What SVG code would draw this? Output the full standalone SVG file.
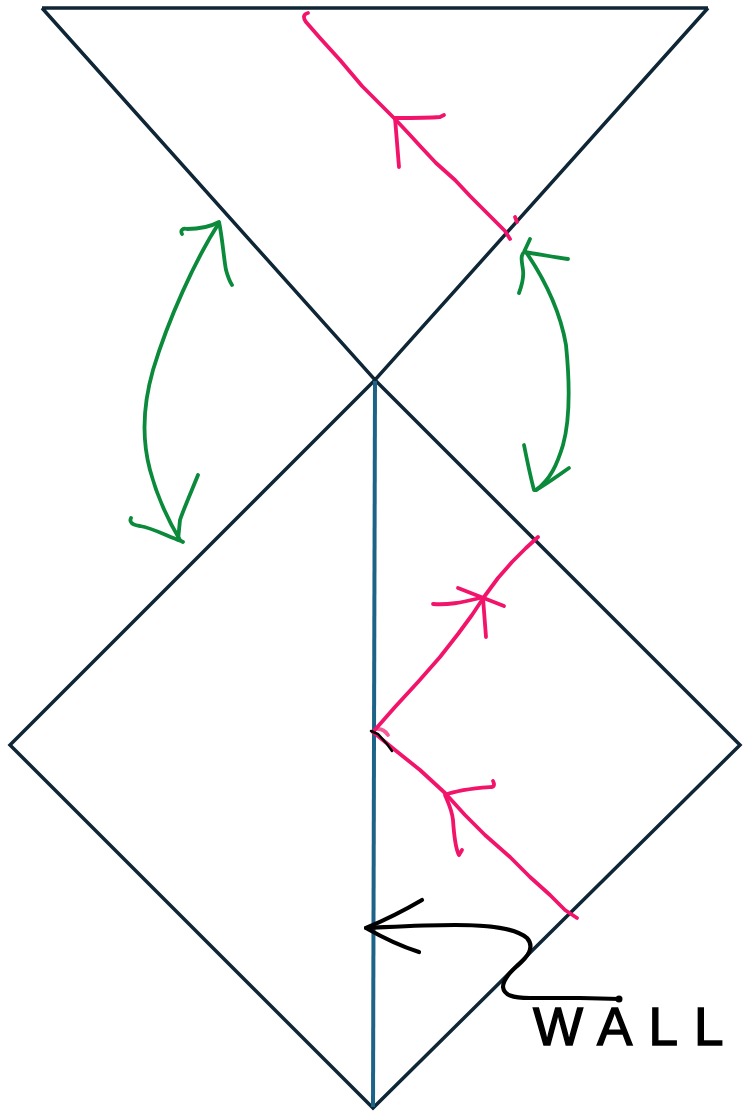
<svg xmlns="http://www.w3.org/2000/svg" width="743" height="1113" viewBox="0 0 743 1113">
<style>
.frame{fill:none;stroke:#0f2636;stroke-width:3.5;stroke-linejoin:miter}
.wall{fill:none;stroke:#1d6387;stroke-width:4}
.pink{fill:none;stroke:#f2146b;stroke-width:3.8;stroke-linecap:round;stroke-linejoin:round}
.green{fill:none;stroke:#0a8a3a;stroke-width:3.8;stroke-linecap:round;stroke-linejoin:round}
.ink{fill:none;stroke:#000;stroke-width:4.2;stroke-linecap:round;stroke-linejoin:round}
.label{font-family:"Liberation Sans",Arial,sans-serif;font-size:53px;fill:#000;stroke:#000;stroke-width:1.4;letter-spacing:16px}
</style>
<rect width="743" height="1113" fill="#fff"/>
<g id="top-triangle">
<path class="frame" d="M42,8 L708,8 M42,8 L375,380 L708,8"/>
</g>
<g id="diamond">
<path class="frame" d="M375,380 L10,745 L373,1108 L740,745 Z"/>
</g>
<g id="wall-line">
<line class="wall" x1="375" y1="381" x2="373" y2="1107"/>
</g>
<g id="connectors">
<g id="pink-top">
<path class="pink" d="M308,13 C303,14 303,18 306,22 L320,38 L340,60 L362,86 L384,108 L395,119 L410,135 L421,147 L436,163 L455,180 L470,196 L485,211 L496,222 L505,231 L510,239"/>
<path class="pink" d="M395,118 C410,118 428,118 440,117 L444,115 M395,118 L399,167"/>
<path class="pink" d="M515,217 L517,222" stroke-width="2.5"/>
</g>
<g id="pink-bottom">
<path class="pink" d="M373,732 L395,707 L418,682 L440,657 L458,634 L472,615 L484,597 L498,578 L512,562 L526,548 L538,537"/>
<path class="pink" d="M458,588 L504,606 M433,604 C448,605 460,603 480,598 M483,598 L486,637"/>
<path class="pink" d="M373,732 L395,750 L420,770 L445,793 L465,815 L485,835 L510,857 L530,877 L550,895 L565,910 L577,918"/>
<path class="pink" d="M445,795 C460,789 478,788 492,787 C495,786 494,783 493,781 M445,795 C448,802 452,810 453,820 C454,835 455,848 459,855 L462,850"/>
<path class="pink" d="M378,729 C383,729 386,732 388,735" stroke-width="1.5" opacity="0.7"/>
<path d="M371,731 L378,734 L387,744 L392,751" fill="none" stroke="#000" stroke-width="2.5" stroke-linecap="round"/>
</g>
<g id="green-left">
<path class="green" d="M219,223 C195,260 168,320 153,370 C143,405 142,440 150,470 C158,500 168,520 180,540"/>
<path class="green" d="M182,234 C180,230 183,228 187,229 C198,229 208,228 219,222 C222,235 224,260 226,270 C228,277 230,282 232,285"/>
<path class="green" d="M131,518 C129,522 132,525 140,526 C152,528 165,535 181,541 L183,542 M198,475 C192,490 184,508 180,520 L178,540"/>
</g>
<g id="green-right">
<path class="green" d="M526,252 C545,280 560,310 566,345 C570,385 570,420 563,445 C557,465 550,480 536,490"/>
<path class="green" d="M519,293 C522,285 524,278 523,270 C522,262 520,256 524,252 L530,239 M524,252 C538,254 552,257 568,259"/>
<path class="green" d="M524,445 C527,460 530,475 534,490 L536,490 C545,485 556,477 569,468"/>
</g>
<g id="wall-arrow">
<path class="ink" d="M366,928 C390,927 420,925 455,925 C490,925 515,928 527,938 C535,947 528,957 517,966 C508,974 503,981 503,987 C504,995 512,998 530,998 L580,998 L620,999"/>
<path class="ink" d="M422,900 C405,910 385,920 366,928 C380,936 400,946 419,952"/>
<circle cx="619" cy="999" r="3.5" fill="#000"/>
</g>
</g>
<g id="wall-label">
<text class="label" x="533" y="1045">WALL</text>
</g>
</svg>
